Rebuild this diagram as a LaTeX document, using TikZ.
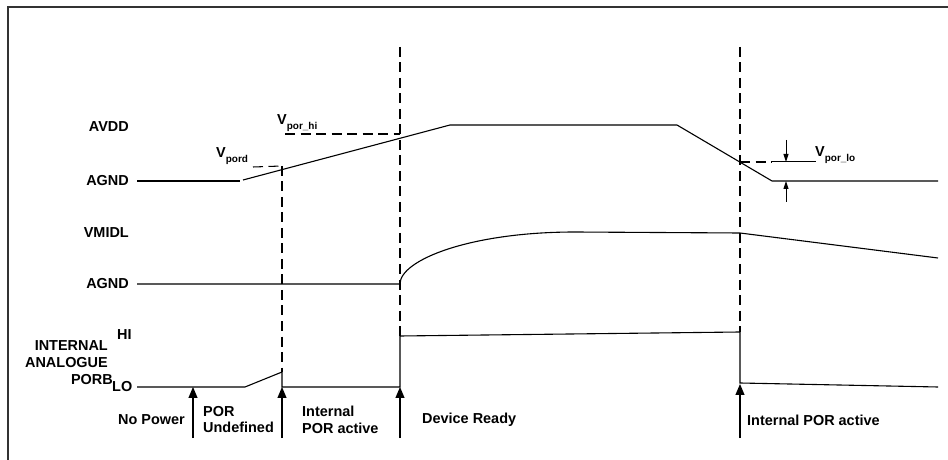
\documentclass[tikz,border=0pt]{standalone}
\usepackage{fontspec}
\setmainfont{Liberation Sans}
\usetikzlibrary{arrows.meta}
\newcommand\mysub[1]{{\fontsize{10}{10}\selectfont\raisebox{-4.5bp}{#1}}}
\begin{document}
\begin{tikzpicture}[x=1bp,y=-1bp,
  lbl/.style={inner sep=0pt,font=\fontsize{14.5}{17}\selectfont\bfseries},
  sig/.style={line width=1.1bp,black},
  dsh/.style={line width=1.05bp,dash pattern=on 10bp off 5.5bp},
  evt/.style={line width=1.1bp,-{Triangle[length=11bp,width=9bp]}},
  dimarr/.style={line width=1bp,-{Triangle[length=8bp,width=5bp]}}]
\useasboundingbox (0,0) rectangle (948,460);
% frame
\coordinate (fr1) at (948,7);
\coordinate (fr2) at (8,7);
\coordinate (fr3) at (8,460);
\draw[line width=1.5bp,black!80] (fr1) -- (fr2) -- (fr3);

% signal labels
\node[lbl,anchor=east] (avdd) at (129,127) {AVDD};
\node[lbl,anchor=east] (agnd1) at (129,181) {AGND};
\node[lbl,anchor=east] (vmidl) at (129,233) {VMIDL};
\node[lbl,anchor=east] (agnd2) at (129,284) {AGND};
\node[lbl,anchor=west] (hi) at (117,335) {HI};
\node[lbl,anchor=east] (int) at (108,346) {INTERNAL};
\node[lbl,anchor=east] (ana) at (108,363) {ANALOGUE};
\node[lbl,anchor=east] (porb) at (113,380) {PORB};
\node[lbl,anchor=west] (lo) at (112,387) {LO};

% AVDD waveform
\coordinate (a0) at (137,181);
\coordinate (a1) at (240,181);
\coordinate (a2) at (243,180);
\coordinate (a3) at (450,125);
\coordinate (a4) at (677,125);
\coordinate (a5) at (772,181);
\coordinate (a6) at (938,181);
\draw[sig] (a0) -- (a1);
\draw[sig] (a2) -- (a3) -- (a4) -- (a5) -- (a6);

% VMIDL waveform
\coordinate (m0) at (137,284);
\coordinate (m1) at (400,284);
\coordinate (m2) at (575,232);
\coordinate (m3) at (740,233);
\coordinate (m4) at (938,258);
\draw[sig] (m0) -- (m1) .. controls (400,260) and (470,232) .. (m2) -- (m3) -- (m4);

% PORB waveform
\coordinate (p0) at (137,387);
\coordinate (p1) at (245,387);
\coordinate (p2) at (282,372);
\coordinate (p3) at (282,387);
\coordinate (p4) at (400,387);
\coordinate (p5) at (400,336);
\coordinate (p6) at (740,332);
\coordinate (p7) at (740,383);
\coordinate (p8) at (938,387);
\draw[sig] (p0) -- (p1) -- (p2) -- (p3) -- (p4) -- (p5) -- (p6) -- (p7) -- (p8);

% dashed markers
\coordinate (d1t) at (282,166);
\coordinate (d2t) at (400,47);
\coordinate (d3t) at (740,47);
\draw[dsh] (d1t) -- (p2);
\draw[dsh] (d2t) -- (p5);
\draw[dsh] (d3t) -- (p6);

% V_pord
\coordinate (vpd0) at (253,167);
\draw[dsh] (vpd0) -- (d1t);
\node[lbl,anchor=base west] (vpord) at (216,158) {V\mysub{pord}};
% V_por_hi
\coordinate (vph0) at (285,134);
\coordinate (vph1) at (400,134);
\draw[dsh] (vph0) -- (vph1);
\node[lbl,anchor=base west] (vporhi) at (277,125) {V\mysub{por\_hi}};
% V_por_lo
\coordinate (vpl0) at (740,162);
\coordinate (vpl1) at (772,162);
\coordinate (vpl2) at (816,162);
\draw[dsh] (vpl0) -- (vpl1);
\draw[sig,line width=1bp] (vpl1) -- (vpl2);
\coordinate (ad0) at (786,140);
\coordinate (ad1) at (786,162);
\coordinate (au0) at (786,202);
\coordinate (au1) at (786,181);
\draw[dimarr] (ad0) -- (ad1);
\draw[dimarr] (au0) -- (au1);
\node[lbl,anchor=base west] (vporlo) at (815,157) {V\mysub{por\_lo}};

% event arrows
\coordinate (e1b) at (193,438); \coordinate (e1t) at (193,387);
\coordinate (e2b) at (282,438); \coordinate (e2t) at (282,387);
\coordinate (e3b) at (400,438); \coordinate (e3t) at (400,387);
\coordinate (e4b) at (740,438); \coordinate (e4t) at (740,384);
\draw[evt] (e1b) -- (e1t);
\draw[evt] (e2b) -- (e2t);
\draw[evt] (e3b) -- (e3t);
\draw[evt] (e4b) -- (e4t);

% phase labels
\node[lbl,anchor=west] (nopow) at (118,420) {No Power};
\node[lbl,anchor=west,align=left] (porund) at (203,419.5) {POR\\Undefined};
\node[lbl,anchor=west,align=left] (intpor) at (302,419.5) {Internal\\POR active};
\node[lbl,anchor=west] (devrdy) at (422,420) {Device Ready};
\node[lbl,anchor=west] (intpor2) at (747,420) {Internal POR active};
\end{tikzpicture}
\end{document}
